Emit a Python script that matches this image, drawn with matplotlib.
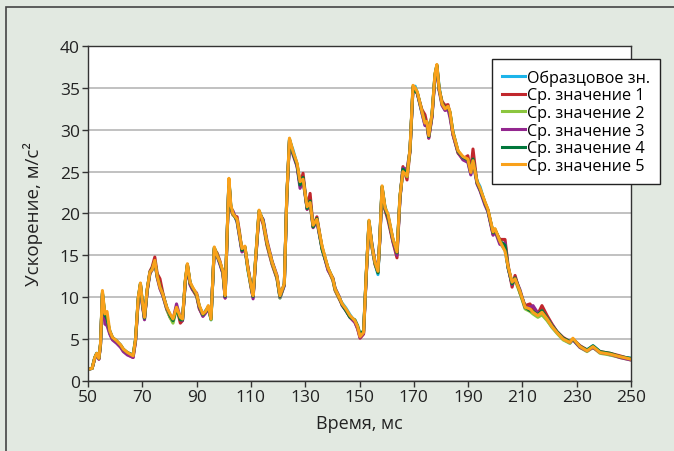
import matplotlib
matplotlib.use('Agg')
import matplotlib.pyplot as plt
from matplotlib.patches import Rectangle

plt.rcParams['font.family'] = ['Open Sans', 'DejaVu Sans']

# time, ms
t = [50, 51.5, 52.5, 53.2, 54, 54.6, 55.3, 56.2, 57, 58,
     59, 60.5, 62, 63, 64.5, 66.6, 67.5, 68.5, 69.3, 70,
     70.8, 71.8, 72.8, 73.6, 74.6, 75.5, 76.5, 77.5, 79, 80.2,
     81.3, 82.6, 84, 84.8, 85.8, 86.6, 87.6, 88.5, 90, 91,
     92.3, 93.3, 94.3, 95.3, 96.5, 97.5, 98.6, 99.7, 100.5, 101.9,
     102.6, 103.4, 104.9, 105.8, 106.7, 107.8, 108.9, 110, 110.8, 111.8,
     113, 114.5, 115.9, 117.8, 119.6, 120.7, 122.3, 123.2, 124.2, 125.5,
     127, 128.1, 129.2, 130.7, 131.8, 132.9, 134.3, 136.2, 138.4, 140.2,
     141, 142.5, 143.6, 145, 146.5, 148.3, 149.3, 150.2, 151.5, 152.5,
     153.5, 154.6, 155.7, 156.8, 157.5, 158.3, 159.4, 160.5, 162.3, 163.8,
     164.9, 166, 167.5, 168.6, 169.7, 170.5, 171.3, 173, 174.1, 174.8,
     175.5, 176.7, 177.8, 178.5, 179.3, 180.4, 181.5, 182.6, 183.3, 184.4,
     186.3, 188.1, 189.9, 191, 191.8, 193.3, 194.4, 196.2, 197.3, 199.2,
     199.9, 201.7, 203.6, 204.7, 206.2, 207.3, 209.1, 211, 212.8, 213.9,
     215.7, 217.2, 219.1, 220.9, 222.7, 225, 227.5, 228.6, 231.2, 233.8,
     236, 238.6, 242.3, 245.9, 250]

ref_val = [1.4, 1.5, 2.8, 3.3, 2.7, 4.4, 10.5, 7.6, 7.2, 5.8,
           5.1, 4.7, 4.2, 3.7, 3.3, 3.0, 4.9, 9.8, 11.6, 9.3,
           7.5, 10.9, 12.9, 13.4, 14.3, 12.4, 11.5, 10.3, 8.7, 7.9,
           7.3, 8.7, 7.4, 7.3, 11.8, 13.8, 11.6, 11.0, 10.2, 8.8,
           7.9, 8.4, 8.8, 7.3, 15.8, 15.2, 14.0, 12.9, 10.0, 24.0,
           20.7, 20.1, 19.0, 17.3, 15.6, 15.8, 13.2, 11.3, 10.0, 14.8,
           20.2, 19.2, 16.4, 14.0, 12.3, 9.9, 11.4, 21.8, 28.8, 27.6,
           25.9, 23.6, 24.2, 20.6, 21.1, 18.8, 19.1, 16.0, 13.4, 12.1,
           10.9, 9.9, 9.3, 8.7, 7.9, 7.1, 6.4, 5.4, 5.9, 12.8,
           19.0, 16.0, 14.0, 12.7, 17.1, 23.1, 20.8, 19.8, 16.8, 15.2,
           21.9, 25.1, 24.6, 27.5, 35.1, 35.2, 34.4, 32.0, 30.6, 30.9,
           29.4, 31.7, 36.5, 37.7, 35.2, 33.0, 32.4, 32.6, 32.0, 29.5,
           27.3, 26.6, 26.3, 24.7, 26.0, 23.9, 23.2, 21.2, 20.3, 17.7,
           18.0, 16.5, 15.6, 13.6, 11.6, 12.4, 10.6, 8.7, 8.5, 8.1,
           7.7, 8.0, 7.3, 6.4, 5.8, 5.0, 4.5, 5.0, 4.2, 3.7,
           4.2, 3.5, 3.1, 2.9, 2.7]

avg1 = [1.4, 1.5, 2.7, 3.2, 2.6, 4.3, 10.4, 7.4, 7.0, 5.7,
        5.0, 4.6, 4.1, 3.6, 3.2, 2.8, 4.8, 9.7, 11.5, 9.2,
        7.4, 10.8, 13.1, 13.6, 14.8, 12.8, 12.2, 10.6, 8.6, 7.6,
        7.1, 8.9, 6.9, 7.2, 11.7, 13.9, 11.5, 10.9, 10.1, 8.6,
        7.8, 8.2, 8.7, 7.6, 15.7, 15.3, 14.3, 12.8, 9.9, 23.9,
        20.5, 19.8, 19.6, 17.8, 15.5, 15.9, 13.6, 11.2, 10.0, 14.6,
        20.1, 18.7, 16.2, 13.9, 12.2, 10.0, 11.5, 21.7, 28.7, 27.3,
        25.7, 23.4, 24.8, 20.5, 22.4, 18.4, 19.6, 15.9, 13.3, 12.0,
        10.8, 9.8, 9.1, 8.4, 7.6, 7.0, 6.2, 5.1, 5.6, 12.7,
        18.9, 15.9, 13.9, 13.0, 16.9, 23.0, 20.4, 19.2, 16.6, 14.7,
        21.8, 25.6, 24.0, 27.4, 35.0, 34.9, 34.3, 32.4, 31.8, 30.8,
        29.0, 31.6, 36.4, 37.6, 34.8, 33.4, 32.9, 33.0, 31.9, 29.4,
        27.2, 26.5, 26.9, 25.2, 27.7, 23.6, 22.8, 21.2, 20.4, 17.5,
        18.0, 16.9, 16.9, 13.9, 11.2, 12.6, 10.5, 9.0, 9.2, 8.6,
        8.0, 9.0, 7.8, 6.8, 5.9, 5.2, 4.7, 5.0, 4.2, 3.7,
        4.0, 3.5, 3.3, 3.0, 2.6]

avg2 = [1.4, 1.5, 2.8, 3.2, 2.7, 4.4, 10.6, 7.8, 7.3, 5.9,
        5.1, 4.7, 4.2, 3.7, 3.3, 3.0, 4.9, 9.9, 11.6, 9.4,
        7.5, 10.9, 12.9, 13.2, 14.2, 12.4, 11.1, 10.3, 8.5, 7.6,
        6.9, 8.6, 7.5, 7.3, 11.9, 13.9, 11.7, 11.1, 10.3, 8.9,
        7.9, 8.2, 8.9, 7.3, 15.9, 15.1, 14.1, 13.0, 10.1, 24.1,
        20.9, 19.9, 19.2, 17.4, 15.7, 16.0, 13.3, 11.4, 10.1, 14.9,
        20.3, 19.0, 16.5, 14.1, 12.4, 9.9, 11.5, 21.9, 28.9, 27.3,
        25.9, 23.5, 23.9, 20.7, 21.0, 18.5, 19.2, 16.0, 13.4, 12.1,
        10.9, 9.9, 9.2, 8.5, 7.7, 7.1, 6.4, 5.3, 5.8, 12.9,
        19.1, 16.0, 14.1, 13.0, 17.2, 23.2, 20.6, 19.7, 16.9, 15.5,
        22.0, 25.1, 24.4, 27.6, 35.2, 35.0, 34.4, 32.1, 30.7, 30.9,
        29.2, 31.8, 36.6, 37.7, 35.0, 33.0, 32.4, 32.7, 32.1, 29.6,
        27.4, 26.7, 26.4, 24.8, 26.2, 23.7, 22.9, 21.3, 20.4, 17.7,
        18.1, 16.6, 16.2, 13.6, 11.7, 12.0, 10.5, 8.6, 8.3, 8.0,
        7.6, 7.9, 7.2, 6.4, 5.7, 4.9, 4.5, 5.0, 4.0, 3.5,
        4.0, 3.3, 3.1, 2.8, 2.5]

avg3 = [1.4, 1.5, 2.7, 3.2, 2.6, 4.3, 10.3, 6.8, 6.6, 5.6,
        4.9, 4.5, 4.0, 3.5, 3.1, 2.8, 4.7, 9.6, 11.4, 9.1,
        7.3, 10.7, 12.8, 13.3, 14.2, 12.3, 11.0, 10.2, 8.6, 7.9,
        7.3, 9.2, 7.5, 7.2, 11.6, 13.7, 11.5, 10.9, 10.5, 8.7,
        7.7, 8.1, 8.6, 7.6, 15.6, 14.9, 13.9, 12.8, 9.9, 23.8,
        20.6, 20.3, 19.0, 17.2, 15.4, 15.7, 13.5, 11.6, 9.8, 14.7,
        20.0, 19.3, 16.8, 14.3, 12.6, 10.0, 11.4, 21.8, 28.6, 27.0,
        25.6, 23.0, 24.0, 20.5, 21.2, 18.3, 19.0, 15.8, 13.2, 12.3,
        11.1, 10.1, 9.0, 8.4, 7.6, 7.0, 6.3, 5.2, 5.7, 12.6,
        18.8, 16.3, 14.3, 13.2, 17.0, 22.9, 20.5, 19.6, 16.7, 15.0,
        21.7, 25.4, 25.3, 27.5, 34.9, 34.8, 34.3, 32.0, 30.5, 30.6,
        29.0, 31.5, 36.3, 37.5, 34.7, 32.9, 32.3, 32.4, 31.5, 29.5,
        27.3, 26.4, 26.1, 24.6, 26.1, 23.5, 22.7, 21.0, 20.2, 17.4,
        17.9, 16.3, 16.5, 13.5, 11.5, 12.3, 10.9, 8.8, 8.8, 9.0,
        8.1, 8.3, 7.5, 6.7, 5.9, 5.1, 4.6, 4.9, 4.0, 3.6,
        4.0, 3.4, 3.2, 2.8, 2.5]

avg4 = [1.4, 1.5, 2.8, 3.3, 2.7, 4.4, 10.5, 7.9, 7.4, 6.0,
        5.2, 4.8, 4.3, 3.8, 3.4, 3.1, 5.0, 9.9, 11.6, 9.4,
        7.5, 10.9, 13.0, 13.4, 14.3, 12.5, 11.3, 10.4, 8.8, 7.8,
        7.2, 8.7, 7.3, 7.3, 11.8, 13.9, 11.7, 11.1, 10.3, 8.9,
        7.9, 8.3, 8.8, 7.4, 15.9, 15.0, 14.1, 13.0, 10.1, 24.0,
        20.8, 20.0, 19.2, 17.5, 15.6, 16.0, 13.4, 11.5, 10.1, 14.9,
        20.3, 19.1, 16.5, 14.2, 12.4, 10.1, 11.6, 21.9, 28.8, 27.2,
        25.8, 23.4, 24.3, 20.6, 21.5, 18.4, 19.4, 15.7, 13.5, 12.2,
        11.0, 10.0, 9.1, 8.4, 7.6, 7.3, 6.6, 5.6, 6.0, 12.9,
        19.1, 16.2, 14.1, 12.9, 17.2, 23.2, 20.6, 19.6, 16.9, 15.3,
        22.0, 25.3, 24.8, 27.6, 35.1, 34.6, 34.4, 32.2, 31.0, 30.9,
        29.2, 31.8, 36.6, 37.7, 34.9, 33.2, 32.6, 32.7, 32.1, 29.8,
        27.4, 26.7, 26.4, 25.0, 26.5, 23.7, 22.9, 21.3, 20.4, 17.7,
        18.1, 16.7, 16.2, 13.6, 11.6, 12.3, 10.7, 8.8, 8.4, 8.3,
        7.9, 8.4, 7.5, 6.6, 5.9, 5.1, 4.7, 5.0, 4.1, 3.7,
        4.2, 3.5, 3.3, 2.9, 2.7]

avg5 = [1.4, 1.5, 2.8, 3.3, 2.7, 4.5, 10.8, 8.0, 8.3, 6.0,
        5.2, 4.8, 4.3, 3.8, 3.4, 3.0, 5.0, 10.0, 11.7, 9.5,
        7.6, 11.0, 13.0, 13.3, 14.4, 12.5, 11.2, 10.4, 8.8, 8.0,
        7.4, 8.8, 7.6, 7.4, 12.0, 14.0, 11.8, 11.2, 10.4, 9.0,
        8.0, 8.3, 9.0, 7.4, 16.0, 15.0, 14.2, 13.1, 10.2, 24.2,
        21.0, 20.0, 19.3, 17.5, 15.8, 16.1, 13.4, 11.5, 10.2, 15.0,
        20.4, 19.0, 16.6, 14.2, 12.5, 10.2, 11.6, 22.0, 29.0, 27.4,
        26.0, 23.8, 24.1, 20.8, 21.3, 18.6, 19.3, 16.1, 13.5, 12.2,
        11.0, 10.0, 9.2, 8.6, 7.8, 7.2, 6.5, 5.3, 5.8, 13.0,
        19.2, 16.1, 14.2, 13.1, 17.3, 23.3, 20.7, 19.9, 17.0, 15.4,
        22.1, 25.0, 24.5, 27.7, 35.3, 35.0, 34.5, 32.2, 30.8, 31.0,
        29.3, 31.9, 36.7, 37.8, 35.0, 33.1, 32.5, 32.8, 32.2, 29.7,
        27.5, 26.8, 26.5, 24.9, 26.3, 23.8, 23.0, 21.4, 20.5, 17.8,
        18.2, 16.7, 15.5, 13.7, 11.8, 12.2, 10.7, 8.8, 8.6, 8.2,
        7.8, 8.2, 7.4, 6.5, 5.8, 5.0, 4.6, 5.1, 4.1, 3.6,
        4.1, 3.4, 3.2, 2.9, 2.6]

series = [
    ('Образцовое зн.', ref_val, '#1cb4ea'),
    ('Ср. значение 1', avg1, '#c1272d'),
    ('Ср. значение 2', avg2, '#8cc63f'),
    ('Ср. значение 3', avg3, '#93278f'),
    ('Ср. значение 4', avg4, '#00773b'),
    ('Ср. значение 5', avg5, '#f9a11b'),
]

bg = '#e2e9e1'
fig = plt.figure(figsize=(6.74, 4.52), dpi=100, facecolor=bg)
ax = fig.add_axes([0.1306, 0.155, 0.8056, 0.741])
ax.set_facecolor('white')

# frame around the figure (only top and left edges are inside the picture)
fig.patches.append(Rectangle((6 / 674, -0.1), 1.2, 1.1 - 8 / 452,
                             transform=fig.transFigure, fill=False,
                             edgecolor='#444444', lw=1.2))

for name, vals, col in series:
    ax.plot(t, vals, color=col, lw=2.2, label=name, solid_joinstyle='round')

ax.set_xlim(50, 250)
ax.set_ylim(0, 40)
ax.set_xticks(range(50, 251, 20))
ax.set_yticks(range(0, 41, 5))
ax.yaxis.grid(True, color='#bcbcbc', lw=1.3)
ax.set_axisbelow(True)
for s in ax.spines.values():
    s.set_color('#333333')
    s.set_linewidth(1.0)
ax.tick_params(direction='out', length=4, width=1.0, color='#333333',
               labelsize=12.5, pad=2, labelcolor='#222222')

ax.set_xlabel('Время, мс', fontsize=13, labelpad=6, color='#222222')
ax.set_ylabel('Ускорение, м/с²', fontsize=13.5, labelpad=12, color='#222222')

leg = fig.legend(loc='upper left', bbox_to_anchor=(492 / 674, 1 - 60 / 452),
                 bbox_transform=fig.transFigure, borderaxespad=0,
                 fontsize=11.6, frameon=True, fancybox=False,
                 handlelength=1.4, handletextpad=0.1, labelspacing=0.1,
                 borderpad=0.65)
leg.get_frame().set_edgecolor('#222222')
leg.get_frame().set_linewidth(1.0)
leg.get_frame().set_facecolor('white')
leg.get_frame().set_alpha(1)

fig.savefig('out.png', dpi=100, facecolor=bg)
